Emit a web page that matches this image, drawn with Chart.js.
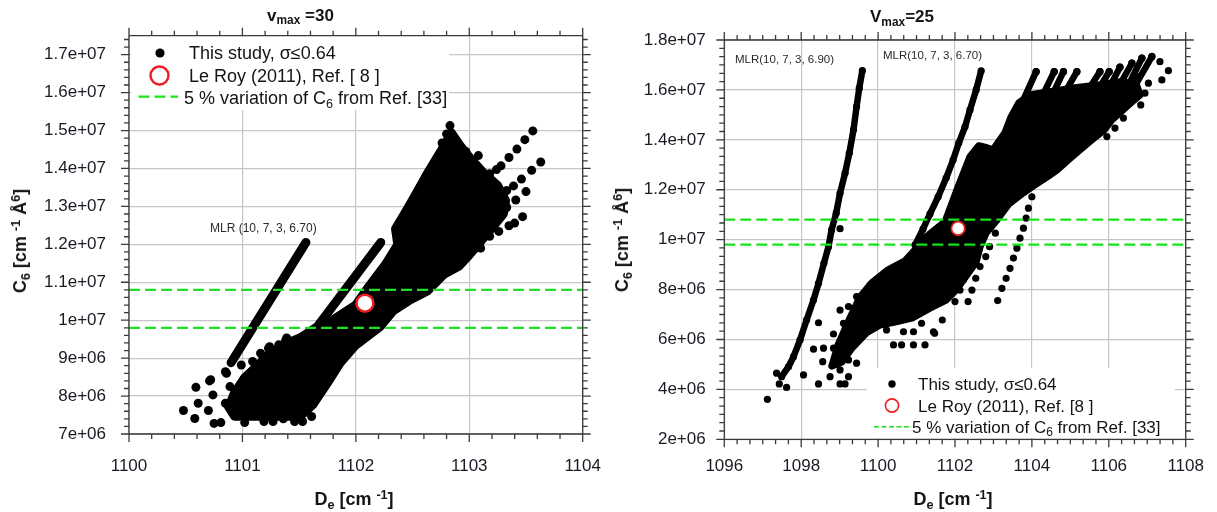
<!DOCTYPE html>
<html lang="en">
<head>
<meta charset="UTF-8">
<title>C6 versus De for vmax = 30 and vmax = 25</title>
<script src="https://cdn.jsdelivr.net/npm/chart.js"></script>
<style>
  body { margin: 0; background: #fff; font-family: 'Liberation Sans', Arial, sans-serif; color: #141418; }
  #page { position: relative; width: 1217px; height: 512px; overflow: hidden; background: #fff; }
  canvas { position: absolute; top: 0; }
  .t { position: absolute; white-space: nowrap; line-height: 1; }
  .title { font-weight: bold; font-size: 17px; }
  .axis { font-weight: bold; font-size: 18px; transform: translateX(-50%); }
  .axis.vert { transform: translate(-50%, -50%) rotate(-90deg); }
  .lo { font-size: 70%; position: relative; top: 0.3em; }
  .hi { font-size: 70%; position: relative; top: -0.45em; }
  .key { position: absolute; background: #fff; }
  .mlr { color: #2a2a2a; }
</style>
</head>
<body>
<div id="page">
  <canvas id="leftChart" width="612" height="512" style="left:0"></canvas>
  <canvas id="rightChart" width="617" height="512" style="left:600px"></canvas>

  <!-- panel titles -->
  <div class="t title" style="left:267px;top:6.5px">v<span class="lo">max</span> =30</div>
  <div class="t title" style="left:870px;top:8px">V<span class="lo">max</span>=25</div>

  <!-- axis titles -->
  <div class="t axis" style="left:354px;top:490px">D<span class="lo">e</span> [cm <span class="hi">-1</span>]</div>
  <div class="t axis" style="left:953px;top:490px">D<span class="lo">e</span> [cm <span class="hi">-1</span>]</div>
  <div class="t axis vert" style="left:20px;top:241px">C<span class="lo">6</span> [cm <span class="hi">-1</span> Å<span class="hi">6</span>]</div>
  <div class="t axis vert" style="left:622px;top:240px">C<span class="lo">6</span> [cm <span class="hi">-1</span> Å<span class="hi">6</span>]</div>

  <!-- curve labels -->
  <div class="t mlr" style="left:210px;top:222px;font-size:12px">MLR (10, 7, 3, 6.70)</div>
  <div class="t mlr" style="left:735px;top:54px;font-size:11.5px">MLR(10, 7, 3, 6.90)</div>
  <div class="t mlr" style="left:883px;top:50px;font-size:11.5px">MLR(10, 7, 3, 6.70)</div>

  <!-- legend boxes (hide the grid behind them) -->
  <div class="key" style="left:131px;top:37px;width:318px;height:73px"></div>
  <div class="key" style="left:867px;top:368px;width:308px;height:70px"></div>

  <svg width="1217" height="512" style="position:absolute;left:0;top:0;pointer-events:none">
    <circle cx="160" cy="53" r="4.6" fill="#000"/>
    <circle cx="159.5" cy="75.5" r="9" fill="#fff" stroke="#ee1c1c" stroke-width="2.4"/>
    <line x1="138.5" y1="96.7" x2="178" y2="96.7" stroke="#1ee01e" stroke-width="2.2" stroke-dasharray="11 5"/>
    <circle cx="892" cy="384" r="3.7" fill="#000"/>
    <circle cx="892" cy="405.5" r="6.6" fill="#fff" stroke="#ee1c1c" stroke-width="1.6"/>
    <line x1="874" y1="426.7" x2="911" y2="426.7" stroke="#1ee01e" stroke-width="1.6" stroke-dasharray="5 2.5"/>
  </svg>

  <div class="t" style="left:189px;top:44.3px;font-size:18px">This study, σ≤0.64</div>
  <div class="t" style="left:189px;top:67px;font-size:18px">Le Roy (2011), Ref. [ 8 ]</div>
  <div class="t" style="left:184px;top:89px;font-size:18px">5 % variation of C<span class="lo">6</span> from Ref. [33]</div>

  <div class="t" style="left:918px;top:376px;font-size:17px">This study, σ≤0.64</div>
  <div class="t" style="left:918px;top:398px;font-size:17px">Le Roy (2011), Ref. [8 ]</div>
  <div class="t" style="left:912px;top:418.5px;font-size:17px">5 % variation of C<span class="lo">6</span> from Ref. [33]</div>
</div>

<script>
// ---------- shared values ----------
const greenLevels = [9.8e6, 1.08e7];        // +/- 5 % around C6 of Ref. [33]
const leRoyPoint = [1102.08, 1.045e7];       // Le Roy (2011)

// ---------- left panel, vmax = 30 ----------
const leftXRange = [1100, 1104];
const leftYRange = [7e6, 1.75e7];
const leftXTicks = [1100, 1101, 1102, 1103, 1104];
const leftYTicks = [7e6, 8e6, 9e6, 1e7, 1.1e7, 1.2e7, 1.3e7, 1.4e7, 1.5e7, 1.6e7, 1.7e7];

// MLR(10,7,3,6.70) line and the second narrow strand above the cloud
const leftMlrLine = [[1100.90, 8.88e6], [1101.56, 12.05e6]];
const leftStrand = [[1102.22, 12.05e6], [1101.66, 9.83e6], [1101.42, 9.35e6]];

// outline of the solid part of the point cloud
const leftCloud = [
  [1100.93, 7.47e6], [1101.51, 7.47e6], [1101.62, 7.77e6], [1101.75, 8.35e6], [1101.86, 8.87e6],
  [1101.99, 9.32e6], [1102.21, 9.82e6], [1102.33, 10.25e6], [1102.48, 10.54e6], [1102.63, 10.77e6],
  [1102.78, 11.22e6], [1102.91, 11.43e6], [1103.00, 11.72e6], [1103.09, 12.04e6], [1103.18, 12.36e6],
  [1103.30, 12.80e6], [1103.32, 13.15e6], [1103.25, 13.55e6], [1103.12, 13.90e6], [1103.00, 14.30e6],
  [1102.92, 14.60e6], [1102.84, 14.95e6], [1102.80, 14.70e6], [1102.71, 14.26e6], [1102.62, 13.81e6],
  [1102.53, 13.33e6], [1102.44, 12.86e6], [1102.35, 12.41e6], [1102.37, 11.99e6], [1102.26, 11.46e6],
  [1102.10, 10.83e6], [1102.00, 10.40e6], [1101.80, 10.01e6], [1101.65, 9.74e6], [1101.53, 9.56e6],
  [1101.40, 9.40e6], [1101.25, 9.14e6], [1101.14, 8.82e6], [1101.02, 8.48e6], [1100.93, 8.08e6],
  [1100.88, 7.71e6], [1100.93, 7.47e6]
];

// single points around the cloud edges
const leftDots = [
  [1100.48, 7.62e6], [1100.58, 7.41e6], [1100.59, 8.23e6], [1100.61, 7.81e6], [1100.72, 8.43e6],
  [1100.74, 8.03e6], [1100.70, 7.62e6], [1100.75, 7.28e6], [1100.81, 7.30e6], [1100.85, 8.64e6],
  [1100.89, 8.25e6], [1100.85, 7.81e6], [1100.99, 8.82e6], [1101.01, 8.43e6], [1101.06, 8.29e6],
  [1101.09, 8.91e6], [1101.02, 7.30e6], [1101.19, 7.33e6], [1101.27, 7.33e6], [1101.36, 7.40e6],
  [1101.46, 7.33e6], [1101.53, 7.33e6], [1101.61, 7.46e6], [1101.23, 9.26e6], [1101.38, 9.46e6],
  [1101.16, 9.13e6], [1100.71, 8.40e6], [1100.86, 8.60e6], [1100.95, 8.07e6], [1101.18, 9.04e6],
  [1101.24, 9.30e6], [1101.32, 9.35e6], [1101.39, 9.53e6],
  [1103.47, 12.73e6], [1103.40, 12.56e6], [1103.35, 12.49e6], [1103.26, 12.34e6], [1103.18, 12.21e6],
  [1103.50, 13.39e6], [1103.41, 13.17e6], [1103.33, 12.97e6], [1103.24, 12.78e6],
  [1103.63, 14.17e6], [1103.55, 13.95e6], [1103.46, 13.72e6], [1103.39, 13.54e6], [1103.33, 13.42e6],
  [1103.56, 14.99e6], [1103.49, 14.76e6], [1103.42, 14.51e6], [1103.35, 14.29e6], [1103.28, 14.07e6],
  [1103.24, 13.97e6], [1103.08, 14.34e6], [1103.04, 14.12e6], [1102.97, 14.45e6], [1102.92, 14.23e6],
  [1102.86, 14.32e6], [1102.82, 14.14e6], [1103.18, 13.86e6], [1103.12, 13.66e6], [1103.07, 13.46e6],
  [1102.83, 15.13e6], [1102.80, 14.91e6], [1102.76, 14.67e6], [1103.10, 11.90e6]
];

// ---------- right panel, vmax = 25 ----------
const rightXRange = [1096, 1108];
const rightYRange = [2e6, 1.8e7];
const rightXTicks = [1096, 1098, 1100, 1102, 1104, 1106, 1108];
const rightYTicks = [2e6, 4e6, 6e6, 8e6, 1e7, 1.2e7, 1.4e7, 1.6e7, 1.8e7];

const rightCurve690 = [
  [1099.59, 16.77e6], [1099.51, 16.07e6], [1099.44, 15.33e6], [1099.36, 14.40e6], [1099.25, 13.46e6],
  [1099.14, 12.66e6], [1099.01, 11.86e6], [1098.91, 11.06e6], [1098.79, 10.39e6], [1098.71, 9.72e6],
  [1098.59, 9.05e6], [1098.45, 8.25e6], [1098.32, 7.58e6], [1098.14, 6.78e6], [1097.97, 5.98e6],
  [1097.80, 5.31e6], [1097.67, 4.91e6], [1097.49, 4.51e6]
];
const rightCurve670 = [
  [1102.68, 16.76e6], [1102.55, 16.00e6], [1102.39, 15.20e6], [1102.26, 14.52e6], [1102.10, 13.88e6],
  [1101.95, 13.19e6], [1101.77, 12.47e6], [1101.56, 11.71e6], [1101.35, 11.03e6], [1101.17, 10.43e6],
  [1100.96, 9.79e6]
];

const rightCloud = [
  [1098.80, 4.94e6], [1098.96, 5.78e6], [1099.27, 6.86e6], [1099.53, 7.70e6], [1099.84, 8.27e6],
  [1100.26, 8.79e6], [1100.70, 9.15e6], [1100.96, 9.59e6], [1101.22, 10.07e6], [1101.74, 10.71e6],
  [1102.08, 12.11e6], [1102.39, 13.32e6], [1102.62, 13.76e6], [1102.83, 13.68e6], [1102.99, 13.60e6],
  [1103.30, 14.28e6], [1103.46, 14.92e6], [1103.66, 15.48e6], [1103.95, 15.80e6], [1104.47, 15.92e6],
  [1105.12, 16.08e6], [1105.77, 16.20e6], [1106.29, 16.32e6], [1106.71, 16.24e6], [1106.81, 15.80e6],
  [1106.60, 15.52e6], [1106.37, 15.20e6], [1106.08, 14.80e6], [1105.88, 14.40e6], [1105.56, 14.00e6],
  [1105.25, 13.60e6], [1104.94, 13.19e6], [1104.65, 12.79e6], [1104.39, 12.51e6], [1104.03, 12.15e6],
  [1103.77, 11.87e6], [1103.40, 11.43e6], [1103.09, 10.79e6], [1102.81, 10.27e6], [1102.65, 9.71e6],
  [1102.55, 9.11e6], [1102.29, 8.55e6], [1102.05, 8.02e6], [1101.77, 7.58e6], [1101.35, 7.26e6],
  [1100.88, 6.86e6], [1100.44, 6.70e6], [1100.05, 6.58e6], [1099.69, 6.26e6], [1099.32, 5.66e6],
  [1099.06, 5.10e6], [1098.80, 4.94e6]
];

// strands reaching the top of the fan
const rightFanStrands = [
  [[1103.66, 15.20e6], [1104.11, 16.73e6]],
  [[1104.16, 15.40e6], [1104.58, 16.73e6]],
  [[1104.47, 15.60e6], [1104.82, 16.73e6]],
  [[1104.78, 15.68e6], [1105.17, 16.73e6]],
  [[1105.38, 15.80e6], [1105.77, 16.73e6]],
  [[1105.69, 15.92e6], [1106.01, 16.73e6]],
  [[1105.98, 16.00e6], [1106.29, 16.91e6]],
  [[1106.24, 16.08e6], [1106.60, 17.07e6]],
  [[1106.50, 16.16e6], [1106.86, 17.27e6]],
  [[1106.71, 16.24e6], [1107.12, 17.33e6]]
];

const rightDots = [
  [1097.12, 3.60e6], [1097.36, 4.65e6], [1097.43, 4.22e6], [1097.62, 4.08e6],
  [1098.45, 6.67e6], [1098.32, 5.61e6], [1098.58, 5.65e6], [1098.84, 5.65e6], [1099.10, 5.65e6],
  [1098.56, 5.11e6], [1099.23, 5.18e6], [1099.44, 5.05e6], [1098.06, 4.58e6], [1098.75, 4.51e6],
  [1099.01, 4.78e6], [1099.23, 4.51e6], [1098.45, 4.22e6], [1099.01, 4.22e6], [1099.14, 4.22e6],
  [1098.84, 6.22e6], [1099.10, 6.65e6], [1099.36, 6.65e6], [1099.01, 7.18e6], [1099.23, 7.32e6],
  [1099.44, 7.72e6], [1099.79, 8.18e6], [1100.05, 8.45e6], [1100.35, 8.79e6], [1100.40, 5.78e6],
  [1100.61, 5.78e6], [1100.92, 5.78e6], [1101.22, 5.78e6], [1100.66, 6.31e6], [1100.92, 6.31e6],
  [1101.44, 6.31e6], [1101.13, 6.65e6], [1100.22, 6.38e6], [1099.88, 6.78e6], [1099.53, 7.18e6],
  [1099.70, 7.58e6], [1100.18, 7.32e6], [1099.01, 10.44e6],
  [1104.00, 11.72e6], [1103.91, 11.26e6], [1103.85, 10.86e6], [1103.78, 10.46e6], [1103.69, 10.06e6],
  [1103.61, 9.66e6], [1103.52, 9.26e6], [1103.43, 8.85e6], [1103.33, 8.45e6], [1103.22, 8.05e6],
  [1103.11, 7.56e6], [1103.05, 10.26e6], [1102.90, 9.72e6], [1102.80, 9.32e6], [1102.65, 8.92e6],
  [1102.54, 8.45e6], [1102.44, 7.98e6], [1102.34, 7.52e6], [1102.00, 7.52e6], [1102.13, 7.98e6],
  [1101.96, 8.79e6], [1102.22, 8.39e6], [1101.67, 6.78e6], [1101.47, 6.25e6],
  [1104.11, 16.73e6], [1104.58, 16.73e6], [1104.82, 16.73e6], [1105.17, 16.73e6], [1105.77, 16.73e6],
  [1106.01, 16.73e6], [1106.29, 16.91e6], [1106.60, 17.07e6], [1106.86, 17.27e6], [1107.12, 17.34e6],
  [1107.33, 17.13e6], [1107.55, 16.77e6], [1107.38, 16.40e6], [1107.03, 16.27e6], [1106.94, 15.87e6],
  [1106.83, 15.40e6], [1106.60, 16.13e6], [1106.42, 15.73e6], [1106.38, 14.87e6], [1106.16, 14.47e6],
  [1105.95, 14.13e6], [1106.73, 16.53e6], [1106.53, 15.47e6], [1106.69, 15.73e6]
];

// ---------- helpers ----------
Chart.defaults.font.family = "'Liberation Sans', Arial, sans-serif";

const pts = arr => arr.map(([x, y]) => ({ x, y }));
const sci = v => v.toExponential().replace(/e([+-])(\d)$/, (m, s, d) => 'e' + s + '0' + d);

function cloudShape(data, r) {
  return { type: 'line', data: pts(data), borderColor: '#000', backgroundColor: '#000', borderWidth: 2 * r,
           fill: 'shape', pointRadius: 0, borderJoinStyle: 'round', borderCapStyle: 'round', order: 6 };
}
function thickLine(data, r, withDots) {
  return { type: 'line', data: pts(data), borderColor: '#000', borderWidth: withDots ? 1.8 * r : 2 * r, fill: false,
           pointRadius: withDots ? r : 0, pointBackgroundColor: '#000', pointBorderWidth: 0,
           borderJoinStyle: 'round', borderCapStyle: 'round', order: 5 };
}
function dots(data, r) {
  return { type: 'scatter', data: pts(data), pointRadius: r, pointBackgroundColor: '#000',
           pointBorderWidth: 0, showLine: false, order: 4 };
}
function greenLine(y, x0, x1) {
  return { type: 'line', data: [{ x: x0, y }, { x: x1, y }], borderColor: '#1ee01e', borderWidth: 2.2,
           borderDash: [11, 5], pointRadius: 0, fill: false, order: 1 };
}
function leRoy(r, w) {
  return { type: 'scatter', data: pts([leRoyPoint]), pointRadius: r, pointBackgroundColor: '#fff',
           pointBorderColor: '#ee1c1c', pointBorderWidth: w, order: 0 };
}

// walks major and minor tick positions of a scale
function eachTick(scale, step, div, fn) {
  const minor = step / div;
  const first = Math.ceil(scale.min / minor - 1e-6);
  const last = Math.floor(scale.max / minor + 1e-6);
  for (let i = first; i <= last; i++) fn(scale.getPixelForValue(i * minor), i % div === 0);
}

// frame with outward tick marks on all four sides
const frameTicks = {
  id: 'frameTicks',
  afterDatasetsDraw(chart, args, opts) {
    const { ctx, chartArea: a, scales: { x, y } } = chart;
    ctx.save();
    ctx.strokeStyle = '#3a3a3a';
    ctx.lineWidth = 1.3;
    ctx.beginPath();
    eachTick(x, opts.xStep, opts.xDiv, (p, major) => {
      const len = major ? 8 : 5;
      ctx.moveTo(p, a.bottom); ctx.lineTo(p, a.bottom + len);
      ctx.moveTo(p, a.top); ctx.lineTo(p, a.top - len);
    });
    eachTick(y, opts.yStep, opts.yDiv, (p, major) => {
      const len = major ? 8 : 5;
      ctx.moveTo(a.left, p); ctx.lineTo(a.left - len, p);
      ctx.moveTo(a.right, p); ctx.lineTo(a.right + len, p);
    });
    ctx.rect(a.left, a.top, a.right - a.left, a.bottom - a.top);
    ctx.stroke();
    ctx.restore();
  }
};

function makeChart(id, datasets, g) {
  const tickFont = { size: 17 };
  return new Chart(document.getElementById(id), {
    type: 'scatter',
    data: { datasets },
    options: {
      responsive: false,
      animation: false,
      events: [],
      layout: { padding: g.padding },
      plugins: {
        legend: { display: false },
        tooltip: { enabled: false },
        frameTicks: g.ticks
      },
      scales: {
        x: {
          type: 'linear', min: g.xRange[0], max: g.xRange[1],
          afterBuildTicks: s => { s.ticks = g.xTicks.map(v => ({ value: v })); },
          // fixed axis height, and no extra side padding for the end labels
          afterFit: s => { s.height = g.xAxisHeight; s.paddingLeft = 0; s.paddingRight = 0; },
          grid: { color: '#c6c6c6', lineWidth: 1.2, drawTicks: false },
          border: { display: false },
          ticks: { padding: g.xPad, color: '#1a1a24', font: tickFont, maxRotation: 0, autoSkip: false,
                   callback: v => String(v) }
        },
        y: {
          type: 'linear', min: g.yRange[0], max: g.yRange[1],
          afterBuildTicks: s => { s.ticks = g.yTicks.map(v => ({ value: v })); },
          afterFit: s => { s.width = g.yAxisWidth; s.paddingTop = 0; s.paddingBottom = 0; },
          grid: { color: '#c6c6c6', lineWidth: 1.2, drawTicks: false },
          border: { display: false },
          ticks: { padding: g.yPad, color: '#1a1a24', font: tickFont, autoSkip: false, callback: v => sci(v) }
        }
      }
    },
    plugins: [frameTicks]
  });
}

// ---------- left chart ----------
const rL = 4.5;
makeChart('leftChart', [
  leRoy(8.5, 2.5),
  ...greenLevels.map(v => greenLine(v, leftXRange[0], leftXRange[1])),
  dots(leftDots, rL),
  thickLine(leftMlrLine, rL, false),
  thickLine(leftStrand, rL, false),
  cloudShape(leftCloud, rL)
], {
  xRange: leftXRange, yRange: leftYRange, xTicks: leftXTicks, yTicks: leftYTicks,
  padding: { left: 0, right: 29.3, top: 35.7, bottom: 0 },
  yAxisWidth: 129, xAxisHeight: 78, xPad: 21.9, yPad: 23,
  ticks: { xStep: 1, xDiv: 5, yStep: 1e6, yDiv: 5 }
});

// ---------- right chart ----------
const rR = 3.6;
makeChart('rightChart', [
  leRoy(6.7, 1.8),
  ...greenLevels.map(v => greenLine(v, rightXRange[0], 1107.95)),
  dots(rightDots, rR),
  thickLine(rightCurve690, rR, true),
  thickLine(rightCurve670, rR, true),
  ...rightFanStrands.map(s => thickLine(s, rR, true)),
  cloudShape(rightCloud, rR)
], {
  xRange: rightXRange, yRange: rightYRange, xTicks: rightXTicks, yTicks: rightYTicks,
  padding: { left: 0, right: 31.3, top: 40, bottom: 0 },
  yAxisWidth: 124.3, xAxisHeight: 72.7, xPad: 17.1, yPad: 18.6,
  ticks: { xStep: 2, xDiv: 6, yStep: 2e6, yDiv: 6 }
});
</script>
</body>
</html>
